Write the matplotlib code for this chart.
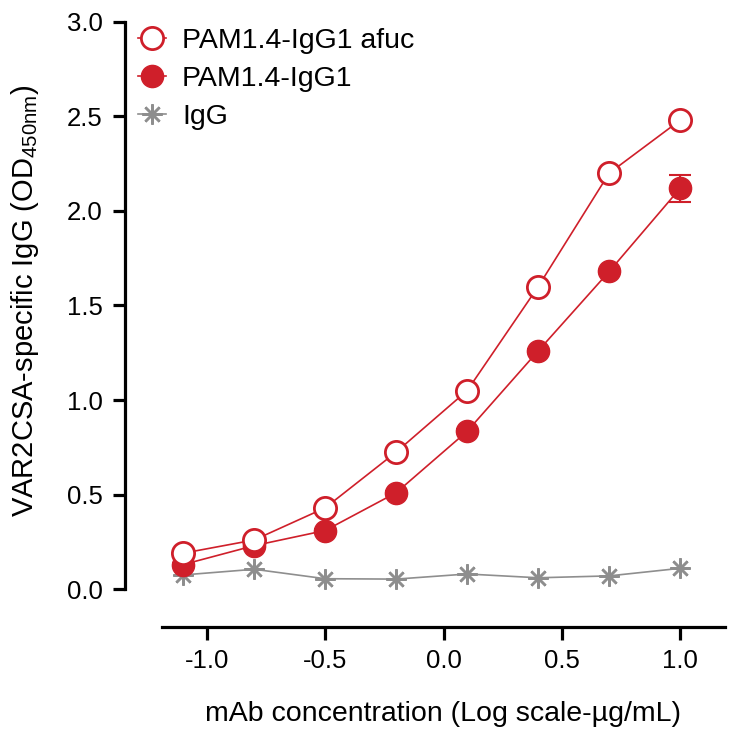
import numpy as np
import matplotlib.pyplot as plt
from matplotlib.lines import Line2D

plt.rcParams['font.family'] = ['Liberation Sans', 'DejaVu Sans']

log_conc = [-1.1, -0.8, -0.5, -0.2, 0.1, 0.4, 0.7, 1.0]
afuc = [0.19, 0.26, 0.43, 0.725, 1.05, 1.60, 2.20, 2.48]
igg1 = [0.13, 0.23, 0.31, 0.51, 0.835, 1.26, 1.68, 2.12]
igg1_err = [0.01, 0.01, 0.01, 0.01, 0.01, 0.01, 0.01, 0.07]
igg = [0.075, 0.105, 0.055, 0.053, 0.08, 0.06, 0.07, 0.11]

red = '#cf1f2a'
grey = '#8e8e8e'
star = (8, 2, 0)

fig = plt.figure(figsize=(7.31, 7.29), dpi=100)
ax = fig.add_axes([0.171, 0.140, 0.821, 0.830])

ax.errorbar(log_conc, igg, color=grey, lw=1.2, marker=star, ms=14.5, mew=1.8,
            zorder=2)
ax.errorbar(log_conc, igg1, yerr=igg1_err, color=red, lw=1.2, marker='o', ms=16,
            capsize=8, capthick=1.5, elinewidth=1.5, zorder=3)
ax.errorbar(log_conc, afuc, color=red, lw=1.2, marker='o', ms=16, mfc='white',
            mew=2, zorder=4)

ax.set_xlim(-1.346, 1.19)
ax.set_ylim(-0.2, 3.0)
ax.spines['top'].set_visible(False)
ax.spines['right'].set_visible(False)
ax.spines['left'].set_bounds(0, 3)
ax.spines['bottom'].set_bounds(-1.19, 1.19)
for s in ('left', 'bottom'):
    ax.spines[s].set_linewidth(2.3)

ax.set_xticks([-1.0, -0.5, 0.0, 0.5, 1.0])
ax.set_xticklabels(['-1.0', '-0.5', '0.0', '0.5', '1.0'])
ax.set_yticks([0, 0.5, 1.0, 1.5, 2.0, 2.5, 3.0])
ax.set_yticklabels(['0.0', '0.5', '1.0', '1.5', '2.0', '2.5', '3.0'])
ax.tick_params(width=2.3, length=9, labelsize=18.5, pad=7)

ax.set_xlabel('mAb concentration (Log scale-µg/mL)', fontsize=20.5)
ax.xaxis.set_label_coords(0.53, -0.123)
ax.set_ylabel('VAR2CSA-specific IgG (OD$_{\\mathregular{450nm}}$)', fontsize=21)
ax.yaxis.set_label_coords(-0.14, 0.539)

handles = [
    Line2D([], [], color=red, lw=1.2, marker='o', ms=16, mfc='white', mew=2),
    Line2D([], [], color=red, lw=1.2, marker='o', ms=16),
    Line2D([], [], color=grey, lw=1.2, marker=star, ms=14.5, mew=1.8),
]
labels = ['PAM1.4-IgG1 afuc', 'PAM1.4-IgG1', 'IgG']
ax.legend(handles, labels, loc='upper left', bbox_to_anchor=(-0.007, 1.018),
          frameon=False, fontsize=20.5, handlelength=1.0, handletextpad=0.55,
          labelspacing=0.42, borderaxespad=0.2)

fig.savefig('out.png', dpi=100)
